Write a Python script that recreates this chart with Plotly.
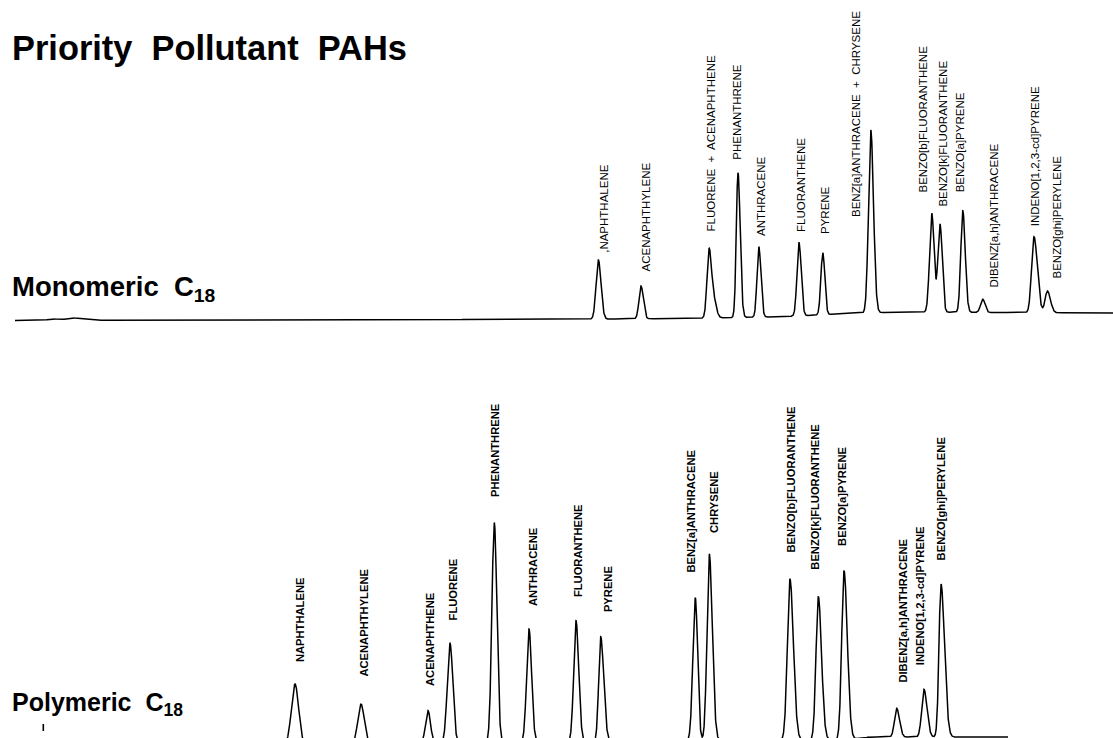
import numpy as np
import plotly.graph_objects as go

# ---------------- DATA ----------------
# Retention time (min) and peak response (relative units)

# Monomeric C18 column
MONO_NAMES = [",NAPHTHALENE", "ACENAPHTHYLENE", "FLUORENE\u00a0 +\u00a0 ACENAPHTHENE", "",
              "PHENANTHRENE", "ANTHRACENE", "FLUORANTHENE", "PYRENE",
              "BENZ[a]ANTHRACENE\u00a0 +\u00a0 CHRYSENE",
              "BENZO[b]FLUORANTHENE", "BENZO[k]FLUORANTHENE", "BENZO[a]PYRENE",
              "DIBENZ[a,h]ANTHRACENE", "INDENO[1,2,3-cd]PYRENE", "BENZO[ghi]PERYLENE",
              "", "", ""]
MONO_RT = [29.92, 32.05, 35.45, 35.68, 36.90, 37.94, 39.95, 41.14, 43.54,
           46.59, 47.00, 48.14, 49.14, 51.70, 52.37, 2.65, 3.60, 4.25]
MONO_AMP = [59.1, 32.8, 66.7, 18.0, 144.7, 70.4, 73.1, 62.0, 182.9,
            98.8, 88.2, 101.6, 13.1, 75.9, 21.7, 1.5, 2.5, 1.5]
MONO_SIG_L = [0.115, 0.100, 0.100, 0.120, 0.085, 0.090, 0.100, 0.095, 0.115,
              0.110, 0.110, 0.100, 0.110, 0.120, 0.115, 0.25, 0.30, 0.20]
MONO_SIG_R = [0.130, 0.115, 0.115, 0.130, 0.110, 0.105, 0.110, 0.100, 0.135,
              0.110, 0.110, 0.120, 0.110, 0.165, 0.150, 0.25, 0.30, 0.20]
MONO_BASE_T = [0.75, 15.0, 29.0, 34.5, 39.0, 42.5, 45.0, 55.65]
MONO_BASE_Y = [0.0, 0.5, 1.2, 2.2, 3.8, 7.0, 8.5, 7.5]

# Polymeric C18 column
POLY_NAMES = ["NAPHTHALENE", "ACENAPHTHYLENE", "ACENAPHTHENE", "FLUORENE",
              "PHENANTHRENE", "ANTHRACENE", "FLUORANTHENE", "PYRENE",
              "BENZ[a]ANTHRACENE", "CHRYSENE",
              "BENZO[b]FLUORANTHENE", "BENZO[k]FLUORANTHENE", "BENZO[a]PYRENE",
              "DIBENZ[a,h]ANTHRACENE", "INDENO[1,2,3-cd]PYRENE", "BENZO[ghi]PERYLENE"]
POLY_RT = [14.75, 18.05, 21.40, 22.50, 24.715, 26.45, 28.80, 30.035,
           34.765, 35.465, 39.50, 40.915, 42.20, 44.835, 46.20, 47.05]
POLY_AMP = [60.7, 39.9, 32.4, 99.5, 219.6, 112.9, 120.6, 104.3,
            142.6, 186.3, 160.5, 143.2, 168.9, 28.7, 47.7, 153.0]
POLY_SIG_L = [0.180, 0.160, 0.125, 0.135, 0.120, 0.120, 0.115, 0.100,
              0.120, 0.115, 0.130, 0.115, 0.115, 0.110, 0.115, 0.100]
POLY_SIG_R = [0.180, 0.160, 0.125, 0.140, 0.130, 0.130, 0.135, 0.150,
              0.115, 0.150, 0.170, 0.160, 0.165, 0.140, 0.150, 0.175]
POLY_BASE_T = [13.5, 30.0, 37.5, 42.5, 43.5, 50.4]
POLY_BASE_Y = [0.0, 4.0, 5.0, 5.5, 8.0, 8.0]
POLY_INJECT_T = 2.165
POLY_INJECT_Y = [14.0, 21.0]

# ---------------- LAYOUT (label placement, min / response units) ----------------
MONO_LABEL_POS = [(30.165, 66.5), (32.25, 47.5), (35.535, 87.8), None,
                  (36.85, 159.8), (38.085, 83.2), (40.085, 87.2), (41.25, 85.5),
                  (42.835, 102.2), (46.135, 127.2), (47.165, 113.2), (48.0, 127.2),
                  (49.715, 32.2), (51.75, 93.2), (52.8, 40.5), None, None, None]
POLY_LABEL_POS = [(14.965, 81.7), (18.215, 67.7), (21.465, 58.3), (22.635, 123.3),
                  (24.785, 246.7), (26.615, 137.7), (28.865, 146.7), (30.365, 131.7),
                  (34.535, 171.7), (35.70, 211.0), (39.535, 191.7), (40.75, 174.3),
                  (42.085, 198.3), (45.165, 61.7), (46.0, 78.3), (47.035, 183.3)]

W, H = 1113, 738
FONT = "Liberation Sans, Arial, Helvetica, sans-serif"


def chromatogram(t, rt, amp, sl, sr, bt, by):
    y = np.interp(t, bt, by)
    for r, a, s1, s2 in zip(rt, amp, sl, sr):
        s = np.where(t < r, s1, s2)
        y = y + a * np.exp(-0.5 * ((t - r) / s) ** 2)
    return y


t_mono = np.linspace(MONO_BASE_T[0], MONO_BASE_T[-1], 6000)
y_mono = chromatogram(t_mono, MONO_RT, MONO_AMP, MONO_SIG_L, MONO_SIG_R,
                      MONO_BASE_T, MONO_BASE_Y)
t_poly = np.linspace(POLY_BASE_T[0], POLY_BASE_T[-1], 6000)
y_poly = chromatogram(t_poly, POLY_RT, POLY_AMP, POLY_SIG_L, POLY_SIG_R,
                      POLY_BASE_T, POLY_BASE_Y)

fig = go.Figure()
fig.add_trace(go.Scatter(x=t_mono, y=y_mono, mode="lines",
                         line=dict(color="black", width=1.5), yaxis="y",
                         hoverinfo="skip", showlegend=False))
fig.add_trace(go.Scatter(x=t_poly, y=y_poly, mode="lines",
                         line=dict(color="black", width=1.5), yaxis="y2",
                         hoverinfo="skip", showlegend=False))
fig.add_trace(go.Scatter(x=[POLY_INJECT_T, POLY_INJECT_T], y=POLY_INJECT_Y, mode="lines",
                         line=dict(color="black", width=1.6), yaxis="y2",
                         hoverinfo="skip", showlegend=False))

annotations = []
for name, pos in zip(MONO_NAMES, MONO_LABEL_POS):
    if not name or pos is None:
        continue
    annotations.append(dict(x=pos[0], y=pos[1], xref="x", yref="y", text=name,
                            textangle=-90, showarrow=False, xanchor="center",
                            yanchor="bottom", borderpad=0,
                            font=dict(family=FONT, size=11.5, color="black")))
for name, pos in zip(POLY_NAMES, POLY_LABEL_POS):
    annotations.append(dict(x=pos[0], y=pos[1], xref="x", yref="y2",
                            text="<b>" + name + "</b>",
                            textangle=-90, showarrow=False, xanchor="center",
                            yanchor="bottom", borderpad=0,
                            font=dict(family=FONT, size=11.2, color="black")))

annotations.append(dict(x=10 / W, y=1 - 48 / H, xref="paper", yref="paper",
                        text="<b>Priority\u00a0 Pollutant\u00a0 PAHs</b>", showarrow=False,
                        xanchor="left", yanchor="middle",
                        font=dict(family=FONT, size=34.4, color="black")))
annotations.append(dict(x=10 / W, y=1 - 288 / H, xref="paper", yref="paper",
                        text="<b>Monomeric\u00a0 C<sub>18</sub></b>", showarrow=False,
                        xanchor="left", yanchor="middle",
                        font=dict(family=FONT, size=27.5, color="black")))
annotations.append(dict(x=10 / W, y=1 - 704 / H, xref="paper", yref="paper",
                        text="<b>Polymeric\u00a0 C<sub>18</sub></b>", showarrow=False,
                        xanchor="left", yanchor="middle",
                        font=dict(family=FONT, size=25, color="black")))

fig.update_layout(
    width=W, height=H,
    margin=dict(l=0, r=0, t=0, b=0),
    paper_bgcolor="white", plot_bgcolor="white",
    xaxis=dict(range=[0, W / 20], visible=False, fixedrange=True),
    yaxis=dict(range=[320.5 - H, 320.5], visible=False, fixedrange=True),
    yaxis2=dict(range=[745 - H, 745], visible=False, overlaying="y", fixedrange=True),
    annotations=annotations,
    showlegend=False,
)

fig.write_html("out.html", config={"displayModeBar": False, "staticPlot": True},
               post_script="document.body.style.margin='0';document.body.style.overflow='hidden';")
